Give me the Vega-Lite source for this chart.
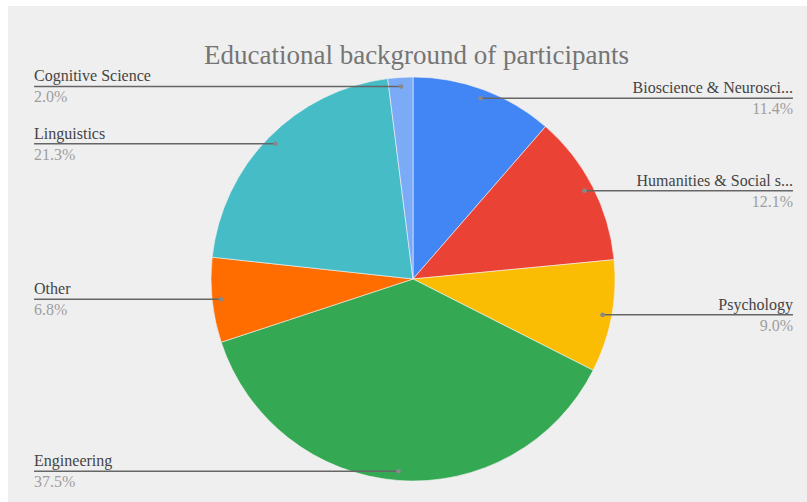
{
  "$schema": "https://vega.github.io/schema/vega-lite/v6.json",
  "width": 799,
  "height": 496,
  "autosize": {"type": "none"},
  "padding": {"left": 8, "top": 6, "right": 0, "bottom": 0},
  "background": "#ffffff",
  "config": {"view": {"fill": "#efefef", "stroke": null}, "font": "Liberation Serif"},
  "title": {
    "text": "Educational background of participants",
    "font": "Liberation Serif",
    "fontSize": 27,
    "fontWeight": "normal",
    "color": "#757575",
    "anchor": "middle",
    "baseline": "alphabetic",
    "dy": 89,
    "dx": 9
  },
  "data": {
    "values": [
      {"category": "Bioscience & Neurosci...", "share": 0.114, "idx": 1},
      {"category": "Humanities & Social s...", "share": 0.121, "idx": 2},
      {"category": "Psychology", "share": 0.090, "idx": 3},
      {"category": "Engineering", "share": 0.375, "idx": 4},
      {"category": "Other", "share": 0.068, "idx": 5},
      {"category": "Linguistics", "share": 0.213, "idx": 6},
      {"category": "Cognitive Science", "share": 0.020, "idx": 7}
    ]
  },
  "transform": [
    {"joinaggregate": [{"op": "sum", "field": "share", "as": "total"}]},
    {"window": [{"op": "sum", "field": "share", "as": "cum"}], "sort": [{"field": "idx"}], "frame": [null, 0]},
    {"calculate": "2*PI*(datum.cum - datum.share/2)/datum.total", "as": "mid"},
    {"calculate": "0.955*sin(datum.mid)", "as": "dotX"},
    {"calculate": "0.955*cos(datum.mid)", "as": "dotY"},
    {"calculate": "datum.dotX > 0 ? 1.881 : -1.876", "as": "labelX"}
  ],
  "layer": [
    {
      "mark": {"type": "arc", "outerRadius": 202, "stroke": "#f4f4f4", "strokeWidth": 0.6},
      "encoding": {
        "theta": {"field": "share", "type": "quantitative", "stack": true},
        "order": {"field": "idx", "type": "quantitative"},
        "color": {
          "field": "category",
          "type": "nominal",
          "legend": null,
          "scale": {
            "domain": ["Bioscience & Neurosci...", "Humanities & Social s...", "Psychology", "Engineering", "Other", "Linguistics", "Cognitive Science"],
            "range": ["#4285f4", "#ea4335", "#fbbc04", "#34a853", "#ff6d01", "#46bdc6", "#7baaf7"]
          }
        },
        "x": {"datum": 0, "type": "quantitative", "scale": {"domain": [-2.005, 1.9505], "zero": false, "nice": false}, "axis": null},
        "y": {"datum": 0, "type": "quantitative", "scale": {"domain": [-1.104, 1.3515], "zero": false, "nice": false}, "axis": null}
      }
    },
    {
      "mark": {"type": "rule", "color": "#666666", "strokeWidth": 1.5},
      "encoding": {
        "x": {"field": "dotX", "type": "quantitative"},
        "x2": {"field": "labelX"},
        "y": {"field": "dotY", "type": "quantitative"}
      }
    },
    {
      "mark": {"type": "point", "filled": true, "color": "#888888", "size": 22, "opacity": 1},
      "encoding": {
        "x": {"field": "dotX", "type": "quantitative"},
        "y": {"field": "dotY", "type": "quantitative"}
      }
    },
    {
      "transform": [{"filter": "datum.dotX < 0"}],
      "mark": {"type": "text", "align": "left", "baseline": "alphabetic", "dy": -5, "fontSize": 16, "color": "#444444", "font": "Liberation Serif"},
      "encoding": {
        "x": {"field": "labelX", "type": "quantitative"},
        "y": {"field": "dotY", "type": "quantitative"},
        "text": {"field": "category"}
      }
    },
    {
      "transform": [{"filter": "datum.dotX < 0"}],
      "mark": {"type": "text", "align": "left", "baseline": "top", "dy": 3, "fontSize": 16, "color": "#9e9e9e", "font": "Liberation Serif"},
      "encoding": {
        "x": {"field": "labelX", "type": "quantitative"},
        "y": {"field": "dotY", "type": "quantitative"},
        "text": {"field": "share", "format": ".1%"}
      }
    },
    {
      "transform": [{"filter": "datum.dotX > 0"}],
      "mark": {"type": "text", "align": "right", "baseline": "alphabetic", "dy": -5, "fontSize": 16, "color": "#444444", "font": "Liberation Serif"},
      "encoding": {
        "x": {"field": "labelX", "type": "quantitative"},
        "y": {"field": "dotY", "type": "quantitative"},
        "text": {"field": "category"}
      }
    },
    {
      "transform": [{"filter": "datum.dotX > 0"}],
      "mark": {"type": "text", "align": "right", "baseline": "top", "dy": 3, "fontSize": 16, "color": "#9e9e9e", "font": "Liberation Serif"},
      "encoding": {
        "x": {"field": "labelX", "type": "quantitative"},
        "y": {"field": "dotY", "type": "quantitative"},
        "text": {"field": "share", "format": ".1%"}
      }
    }
  ]
}
